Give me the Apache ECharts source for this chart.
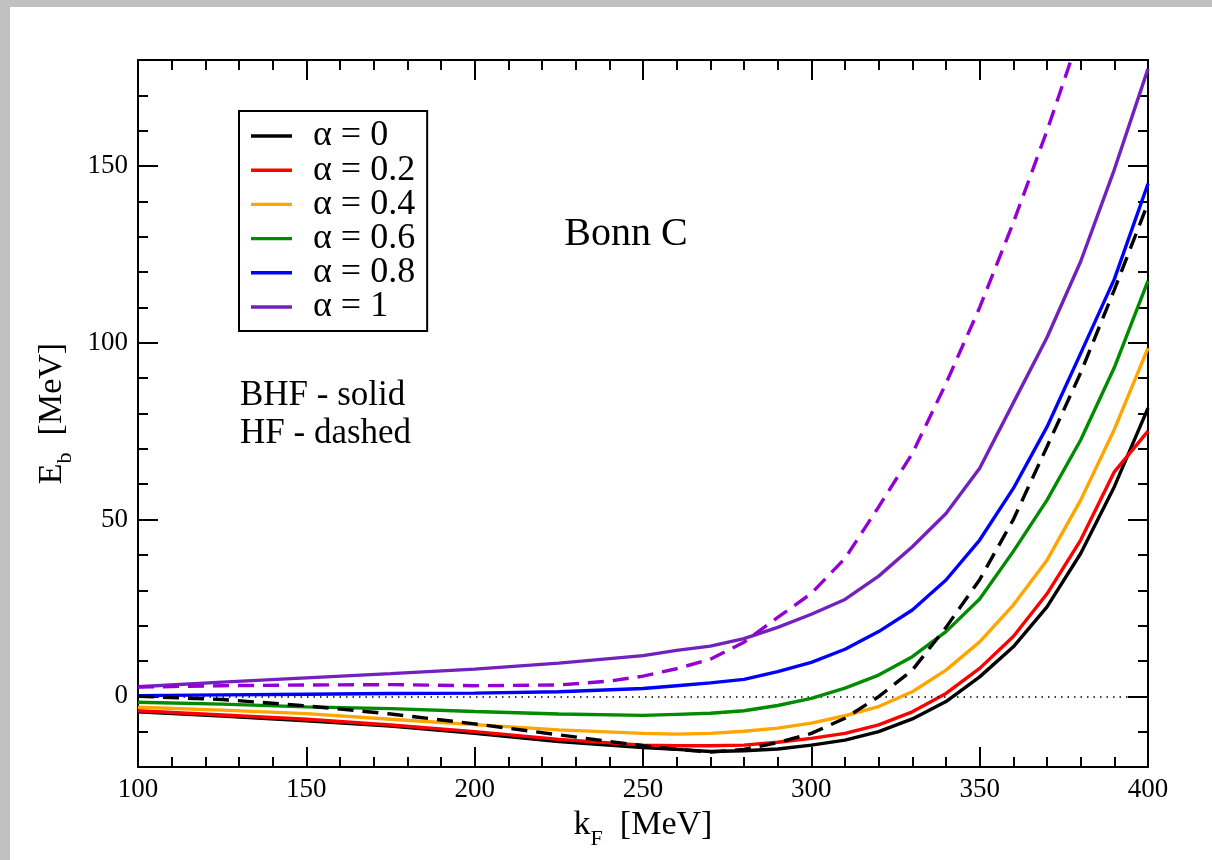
<!DOCTYPE html>
<html>
<head>
<meta charset="utf-8">
<script src="https://cdn.jsdelivr.net/npm/echarts@6/dist/echarts.min.js"></script>
<style>
  html, body { margin: 0; padding: 0; background: #fff; }
  #chart { width: 1212px; height: 860px; }
</style>
</head>
<body>
<div id="chart"></div>
<script>
// Fermi momentum grid [MeV]
const kF = [100, 125, 150, 175, 200, 225, 250, 260, 270, 280, 290, 300, 310, 320, 330, 340, 350, 360, 370, 380, 390, 400];

// BHF binding energies E_b [MeV] for each alpha
const bhfA00 = [-4.4, -5.6, -6.9, -8.4, -10.5, -12.8, -14.5, -15.0, -15.6, -15.4, -14.9, -13.8, -12.4, -10.0, -6.4, -1.5, 5.5, 14.0, 25.3, 40.4, 59.3, 81.5];
const bhfA02 = [-4.1, -5.3, -6.5, -8.1, -10.0, -12.2, -13.8, -14.0, -14.0, -13.8, -13.0, -11.9, -10.5, -8.1, -4.4, 0.8, 7.9, 16.9, 29.0, 44.2, 63.5, 75.0];
const bhfA04 = [-3.1, -3.9, -4.9, -6.5, -8.0, -9.5, -10.5, -10.7, -10.5, -9.9, -9.0, -7.6, -5.5, -2.9, 1.3, 7.4, 15.4, 25.8, 38.5, 55.5, 75.5, 98.5];
const bhfA06 = [-1.7, -2.2, -3.0, -3.5, -4.3, -5.0, -5.4, -5.1, -4.8, -4.1, -2.6, -0.6, 2.3, 6.0, 11.2, 18.3, 27.5, 41.0, 55.5, 72.5, 93.0, 117.5];
const bhfA08 = [0.2, 0.4, 0.6, 0.8, 0.9, 1.3, 2.2, 3.0, 3.8, 4.8, 7.0, 9.6, 13.3, 18.3, 24.4, 32.9, 44.2, 58.8, 76.2, 97.0, 118.0, 145.0];
const bhfA10 = [2.7, 4.0, 5.2, 6.4, 7.7, 9.4, 11.5, 13.0, 14.2, 16.3, 19.5, 23.2, 27.4, 34.0, 42.3, 51.7, 64.5, 83.0, 101.5, 123.0, 149.0, 177.5];

// HF binding energies E_b [MeV]
const hfA00 = [0.0, -0.9, -2.7, -5.0, -7.8, -10.9, -14.0, -15.0, -15.8, -15.0, -13.1, -10.5, -6.2, -0.1, 7.4, 19.5, 33.0, 50.0, 70.6, 91.5, 115.0, 139.5];
const kFhfA10 = [100, 125, 150, 175, 200, 225, 240, 250, 260, 270, 280, 290, 300, 310, 320, 330, 340, 350, 360, 370, 380];
const hfA10 = [2.6, 3.0, 3.2, 3.3, 3.0, 3.2, 4.3, 5.7, 7.8, 10.5, 15.3, 22.3, 29.1, 39.0, 53.6, 68.7, 88.5, 110.0, 134.0, 160.0, 188.0];

// Legend labels and colours
const alphaLabels = ['α = 0', 'α = 0.2', 'α = 0.4', 'α = 0.6', 'α = 0.8', 'α = 1'];
const alphaColors = ['#000000', '#ff0000', '#ffa500', '#008b00', '#0000ff', '#7221bc'];
const hfA10Color = '#9400d3';

// Axis ticks
const xMin = 100, xMax = 400, xStep = 50;
const yMin = -20, yMax = 180, yMinorStep = 10;
const yMajor = [0, 50, 100, 150];

const FONT = "'Liberation Serif', 'DejaVu Serif', serif";
const DASH = [16, 9];
const LW = 3.4;

const chart = echarts.init(document.getElementById('chart'), null, { renderer: 'canvas' });

function pairs(xs, ys) { return xs.map((x, i) => [x, ys[i]]); }

function lineSeries(name, xs, ys, color, dashed, z) {
  return {
    name: name,
    type: 'line',
    xAxisIndex: 0,
    yAxisIndex: 0,
    data: pairs(xs, ys),
    symbol: 'none',
    showSymbol: false,
    smooth: false,
    clip: true,
    z: z,
    lineStyle: { color: color, width: LW, type: dashed ? DASH : 'solid' },
    itemStyle: { color: color },
    emphasis: { disabled: true }
  };
}

const bhfSets = [bhfA00, bhfA02, bhfA04, bhfA06, bhfA08, bhfA10];
const series = bhfSets.map((ys, i) => lineSeries(alphaLabels[i], kF, ys, alphaColors[i], false, 3 + i));

const hf0 = lineSeries('HF α = 0', kF, hfA00, alphaColors[0], true, 10);
hf0.markLine = {
  silent: true,
  symbol: 'none',
  label: { show: false },
  lineStyle: { color: '#000', width: 1.5, type: [1.5, 5] },
  data: [{ yAxis: 0 }]
};
series.push(hf0);
series.push(lineSeries('HF α = 1', kFhfA10, hfA10, hfA10Color, true, 11));

const tickLine = { color: '#000', width: 2 };
const gridRect = { left: 138, top: 60, right: 64, bottom: 93 };
const nameRich = {
  m: { fontFamily: FONT, fontSize: 34, color: '#000' },
  s: { fontFamily: FONT, fontSize: 22, color: '#000', padding: [28, 0, 0, 0] }
};

function xAxisCfg(pos, withLabels, grid) {
  return {
    type: 'value', gridIndex: grid, position: pos,
    min: xMin, max: xMax, interval: xStep,
    show: grid === 0,
    axisLine: { show: true, onZero: false, lineStyle: tickLine },
    axisTick: { show: true, inside: true, length: 20, lineStyle: tickLine },
    minorTick: { show: true, splitNumber: 5, length: 10, lineStyle: tickLine },
    splitLine: { show: false },
    minorSplitLine: { show: false },
    axisLabel: {
      show: withLabels, margin: 9,
      fontFamily: FONT, fontSize: 27, color: '#000'
    },
    name: withLabels ? '{m|k}{s|F}{m|  [MeV]}' : '',
    nameLocation: 'middle',
    nameGap: 33,
    nameTextStyle: { color: '#000', rich: nameRich }
  };
}

function yAxisMinor(pos, withLabels) {
  return {
    type: 'value', gridIndex: 0, position: pos,
    min: yMin, max: yMax, interval: yMinorStep,
    axisLine: { show: true, onZero: false, lineStyle: tickLine },
    axisTick: { show: true, inside: true, length: 10, lineStyle: tickLine },
    splitLine: { show: false },
    axisLabel: {
      show: withLabels, margin: 10,
      fontFamily: FONT, fontSize: 27, color: '#000',
      formatter: v => (yMajor.indexOf(v) >= 0 ? String(v) : '')
    },
    name: withLabels ? '{m|E}{s|b}{m|  [MeV]}' : '',
    nameLocation: 'middle',
    nameRotate: 90,
    nameGap: 61,
    nameTextStyle: { color: '#000', rich: nameRich }
  };
}

function yAxisMajor(pos) {
  return {
    type: 'value', gridIndex: 1, position: pos,
    min: yMin, max: yMax, interval: yMinorStep,
    axisLine: { show: false },
    axisTick: { show: true, inside: true, length: 20, lineStyle: tickLine, customValues: yMajor },
    splitLine: { show: false },
    axisLabel: { show: false }
  };
}

const option = {
  animation: false,
  backgroundColor: '#ffffff',
  grid: [
    Object.assign({ containLabel: false }, gridRect),
    Object.assign({ containLabel: false }, gridRect)
  ],
  xAxis: [
    xAxisCfg('bottom', true, 0),
    xAxisCfg('top', false, 0),
    xAxisCfg('bottom', false, 1)
  ],
  yAxis: [
    yAxisMinor('left', true),
    yAxisMinor('right', false),
    yAxisMajor('left'),
    yAxisMajor('right')
  ],
  legend: {
    data: alphaLabels,
    orient: 'vertical',
    left: 239,
    top: 111,
    padding: [7, 12, 6, 12],
    itemGap: -1.8,
    icon: 'rect',
    itemWidth: 41,
    itemHeight: 3.4,
    backgroundColor: '#ffffff',
    borderColor: '#000',
    borderWidth: 2,
    borderRadius: 0,
    selectedMode: false,
    textStyle: {
      fontFamily: FONT, fontSize: 36, color: '#000',
      lineHeight: 34.2, padding: [0, 0, 0, 16]
    }
  },
  graphic: [
    { type: 'rect', silent: true, z: 100, shape: { x: 0, y: 0, width: 1212, height: 7 }, style: { fill: '#c0c0c0' } },
    { type: 'rect', silent: true, z: 100, shape: { x: 0, y: 0, width: 10, height: 860 }, style: { fill: '#c0c0c0' } },
    { type: 'text', silent: true, x: 626, y: 234,
      style: { text: 'Bonn C', fontFamily: FONT, fontSize: 40, fill: '#000', align: 'center', verticalAlign: 'middle' } },
    { type: 'text', silent: true, x: 240, y: 396,
      style: { text: 'BHF - solid', fontFamily: FONT, fontSize: 35, fill: '#000', align: 'left', verticalAlign: 'middle' } },
    { type: 'text', silent: true, x: 240, y: 434,
      style: { text: 'HF - dashed', fontFamily: FONT, fontSize: 35, fill: '#000', align: 'left', verticalAlign: 'middle' } }
  ],
  series: series
};

chart.setOption(option);
</script>
</body>
</html>
